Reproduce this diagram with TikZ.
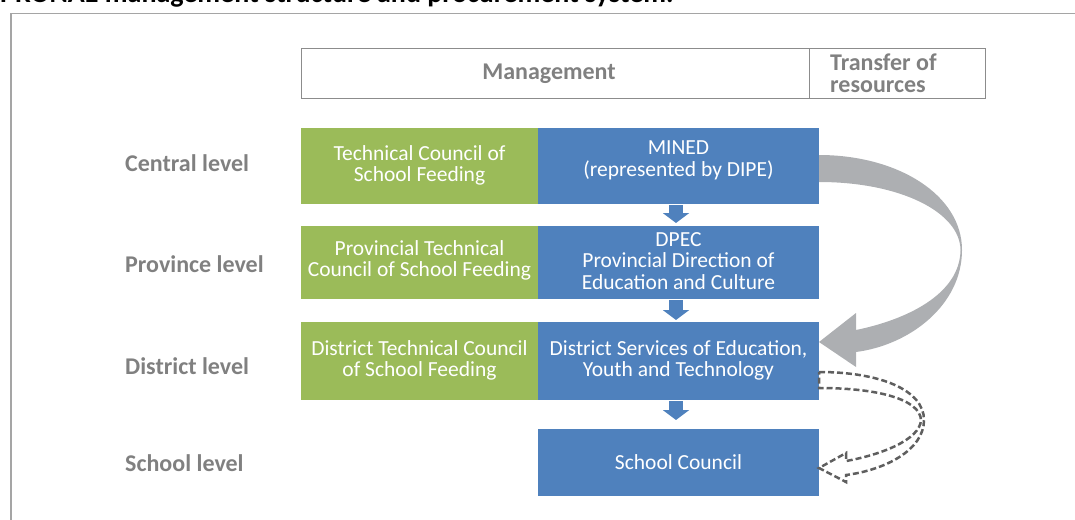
\documentclass[tikz,border=0pt]{standalone}
\usepackage{fontspec}
\setmainfont{Carlito}
\usetikzlibrary{arrows.meta,calc}
\definecolor{pgreen}{RGB}{155,187,89}
\definecolor{pblue}{RGB}{79,129,189}
\definecolor{lblgray}{RGB}{128,128,128}
\definecolor{framegray}{RGB}{165,165,165}
\definecolor{hdrgray}{RGB}{140,140,140}
\definecolor{bigarrowgray}{RGB}{173,175,178}
\definecolor{dashgray}{RGB}{95,95,95}
\tikzset{
  lvl/.style={anchor=west, font=\bfseries\fontsize{24}{26}\selectfont, text=lblgray, inner sep=0pt},
  hdr/.style={draw=hdrgray, line width=1pt, minimum height=49pt, inner sep=0pt, outer sep=0pt},
  hdrtext/.style={font=\bfseries\fontsize{24}{22}\selectfont, text=lblgray, inner sep=0pt},
  gbox/.style={fill=pgreen, minimum width=237pt, inner sep=0pt, outer sep=0pt},
  bbox/.style={fill=pblue, minimum width=281pt, inner sep=0pt, outer sep=0pt},
  btext/.style={text=white, align=center, font=\fontsize{21.5}{21.5}\selectfont, inner sep=0pt},
  smallarrow/.style={draw=pblue, line width=14pt, -{Triangle[width=26pt,length=10pt]}},
  bigarrow/.style={fill=bigarrowgray},
  dasharrow/.style={draw=dashgray, line width=2.5pt, dash pattern=on 6pt off 3pt, line join=miter}
}
\begin{document}
\begin{tikzpicture}[x=1pt,y=-1pt]
\useasboundingbox (0,0) rectangle (1075,519);
% title (partly cut off at the top edge, as in the source)
\node[anchor=base west, font=\bfseries\fontsize{28}{30}\selectfont, inner sep=0pt] (title) at (0,3)
  {PRONAE management structure and procurement system.};
% frame
\draw[framegray, line width=1.5pt] (11,530) -- (11,13.5) -- (1085,13.5);
% header
\node[hdr, minimum width=508pt] (mgmt) at (555,73.5) {};
\node[hdrtext] (mgmttxt) at (549,73.5) {Management};
\node[hdr, minimum width=176pt] (transfer) at (897,73.5) {};
\node[hdrtext, anchor=west, align=left] (transfertxt) at (830,73.5) {Transfer of\\resources};
% level labels
\node[lvl] (central) at (125,163) {Central level};
\node[lvl] (province) at (125,264) {Province level};
\node[lvl] (district) at (125,366) {District level};
\node[lvl] (school) at (125,463) {School level};
% boxes
\node[gbox, minimum height=76pt] (g1) at (419.5,166) {};
\node[btext] (g1t) at ([yshift=0.5pt]g1.center) {Technical Council of\\School Feeding};
\node[bbox, minimum height=76pt] (mined) at (678.5,166) {};
\node[btext] (minedt) at ([yshift=5.5pt]mined.center) {MINED\\(represented by DIPE)};
\node[gbox, minimum height=73pt] (g2) at (419.5,262.5) {};
\node[btext] (g2t) at ([yshift=2pt]g2.center) {Provincial Technical\\Council of School Feeding};
\node[bbox, minimum height=73pt] (dpec) at (678.5,262.5) {};
\node[btext] (dpect) at ([yshift=1.5pt]dpec.center) {DPEC\\Provincial Direction of\\Education and Culture};
\node[gbox, minimum height=78pt] (g3) at (419.5,361) {};
\node[btext] (g3t) at ([yshift=0.5pt]g3.center) {District Technical Council\\of School Feeding};
\node[bbox, minimum height=78pt] (dset) at (678.5,361) {};
\node[btext] (dsett) at ([yshift=0.5pt]dset.center) {District Services of Education,\\Youth and Technology};
\node[bbox, minimum height=67pt] (council) at (678.5,462.5) {};
\node[btext] (councilt) at ([yshift=0.5pt]council.center) {School Council};
% small arrows
\draw[smallarrow, shorten <=1pt, shorten >=3pt] ([xshift=-2.5pt]mined.south) -- ([xshift=-2.5pt]dpec.north);
\draw[smallarrow, shorten <=1pt, shorten >=2pt] ([xshift=-2.5pt]dpec.south) -- ([xshift=-2.5pt]dset.north);
\draw[smallarrow, shorten <=1pt, shorten >=9pt] ([xshift=-2.5pt]dset.south) -- ([xshift=-2.5pt]council.north);
% big curved transfer arrow
\fill[bigarrow] ([yshift=11pt]mined.east) .. controls (898,155) and (962,195) .. (962,250)
  .. controls (962,305) and (910,345) .. (856,352) -- (856,367) -- ([yshift=19pt]dset.east)
  -- (856,313) -- (856,330) .. controls (905,320) and (960,295) .. (960.5,250)
  .. controls (960,212) and (900,182) .. ([yshift=-16pt]mined.east) -- cycle;
% dashed curved arrow
\draw[dasharrow] ([yshift=-11pt]dset.east) .. controls (880,372) and (924,390) .. (924,420)
  .. controls (924,450) and (885,470) .. (846,475) -- (846,482) -- ([yshift=-5.5pt]council.east)
  -- (846,453) -- (846,461) .. controls (880,455) and (920,440) .. (921,420)
  .. controls (920,400) and (880,388) .. ([yshift=-27pt]dset.east) -- cycle;
\end{tikzpicture}
\end{document}
